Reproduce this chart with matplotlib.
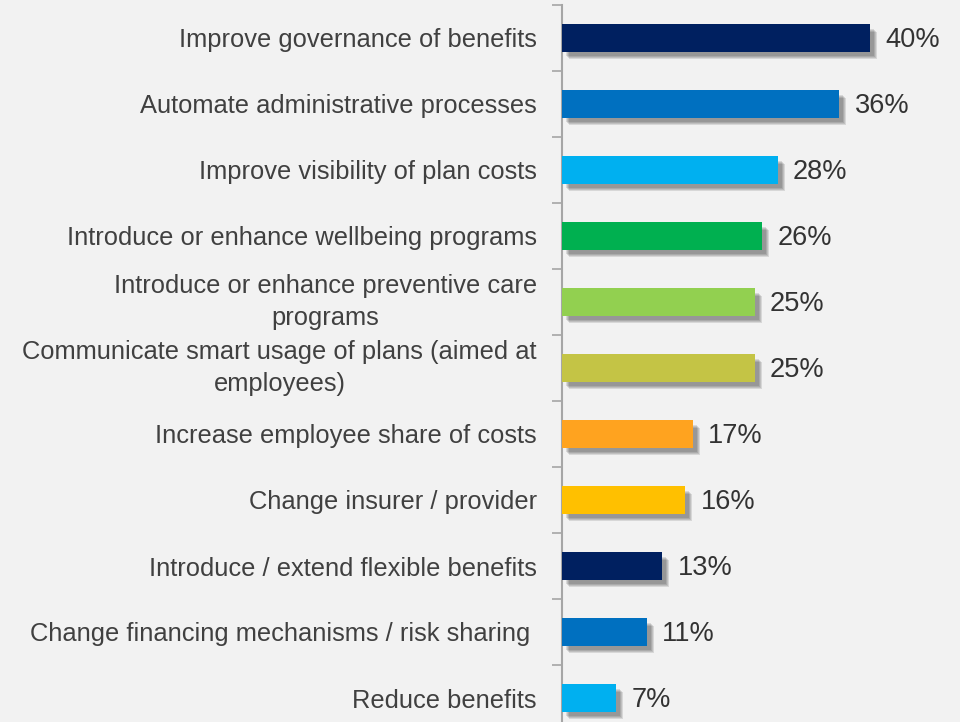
import matplotlib.pyplot as plt
import matplotlib.patheffects as pe
import numpy as np

categories = [
    'Improve governance of benefits',
    'Automate administrative processes',
    'Improve visibility of plan costs',
    'Introduce or enhance wellbeing programs',
    'Introduce or enhance preventive care\nprograms',
    'Communicate smart usage of plans (aimed at\nemployees)',
    'Increase employee share of costs',
    'Change insurer / provider',
    'Introduce / extend flexible benefits',
    'Change financing mechanisms / risk sharing ',
    'Reduce benefits',
]
values = [40, 36, 28, 26, 25, 25, 17, 16, 13, 11, 7]
colors = ['#002060', '#0070C0', '#00B0F0', '#00B050', '#92D050', '#C4C445',
          '#FFA31F', '#FFC000', '#002060', '#0070C0', '#00B0F0']

plt.rcParams['font.family'] = ['Liberation Sans', 'DejaVu Sans']

fig = plt.figure(figsize=(9.6, 7.22), dpi=100)
fig.patch.set_facecolor('#f2f2f2')
# axes runs a little past the bottom edge, so the last row is clipped
ax = fig.add_axes([562 / 960, -9 / 722, 398 / 960, 726 / 722])
ax.set_facecolor('#f2f2f2')

y = np.arange(len(categories))
bars = ax.barh(y, values, height=0.41, color=colors, zorder=3)

# soft drop shadow under each bar
shadow = [pe.SimplePatchShadow(offset=(3 + k * 0.7, -3 - k * 0.7), shadow_rgbFace='black', alpha=0.11)
          for k in range(4)] + [pe.Normal()]
for b in bars:
    b.set_path_effects(shadow)

for yi, v in zip(y, values):
    ax.text(v + 2.0, yi + 0.03, f'{v}%', va='center', ha='left', fontsize=19.6, color='#333333')

ax.set_xlim(0, 398 / 7.7)
ax.set_ylim(len(categories) - 0.5, -0.5)

ax.set_yticks(y)
ax.set_yticklabels(categories, fontsize=18.4, color='#404040', multialignment='center', linespacing=1.4)
for lab in ax.get_yticklabels():
    if '\n' in lab.get_text():
        lab.set_va('center')
ax.tick_params(axis='y', which='major', length=0, pad=18)
ax.set_yticks(np.arange(len(categories) + 1) - 0.5, minor=True)
ax.tick_params(axis='y', which='minor', length=7, width=1.2, color='#a6a6a6')
ax.set_xticks([])

for s in ['top', 'right', 'bottom']:
    ax.spines[s].set_visible(False)
ax.spines['left'].set_color('#a6a6a6')
ax.spines['left'].set_linewidth(1.5)

fig.savefig('out.png', dpi=100, facecolor=fig.get_facecolor())
